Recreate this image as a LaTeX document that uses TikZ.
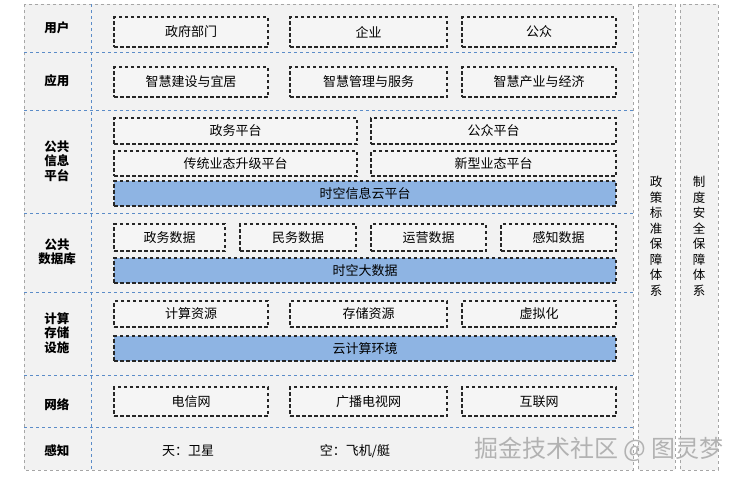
\documentclass[tikz,border=0pt]{standalone}
\usepackage{fontspec}
\setmainfont{Noto Sans CJK SC}
\begin{document}
\begin{tikzpicture}[x=1pt,y=-1pt,
 bx/.style={draw=black!85,dash pattern=on 3.5pt off 2.5pt,line width=1.1pt,fill=gray!8,inner sep=0pt,font=\fontsize{13}{13}\selectfont},
 bl/.style={draw=black!85,dash pattern=on 3.5pt off 2.5pt,line width=1.1pt,fill={rgb,255:red,142;green,180;blue,227},inner sep=0pt,font=\fontsize{13}{13}\selectfont},
 dv/.style={draw={rgb,255:red,91;green,140;blue,200},dashed,line width=0.8pt},
 lab/.style={font=\bfseries\fontsize{12.5}{14.5}\selectfont,align=center}]
\useasboundingbox (0,0) rectangle (740,479);
\fill[white] (0,0) rectangle (740,479);
\fill[gray!10] (24,4) rectangle (633,470);
\draw[gray!70,dashed] (24,4) rectangle (633,470);
\fill[gray!10] (638,4) rectangle (675,470);
\draw[gray!70,dashed] (638,4) rectangle (675,470);
\fill[gray!10] (680,4) rectangle (718,470);
\draw[gray!70,dashed] (680,4) rectangle (718,470);
\draw[dv] (91,4) -- (91,470);
\foreach \y in {52,110,213,292,375,427} \draw[dv] (24,\y) -- (633,\y);
\node[lab] (l1) at (57,28) {用户};
\node[lab] (l2) at (57,81) {应用};
\node[lab] (l3) at (57,161) {公共\\信息\\平台};
\node[lab] (l4) at (57,252) {公共\\数据库};
\node[lab] (l5) at (57,333) {计算\\存储\\设施};
\node[lab] (l6) at (57,405) {网络};
\node[lab] (l7) at (57,451) {感知};
\newcommand{\bbox}[6]{\node[#6,minimum width=#3-#2,minimum height=#5-#4] (#1) at ({(#2+#3)/2},{(#4+#5)/2})}
\bbox{u1}{114}{268}{17}{47}{bx} {政府部门};
\bbox{u2}{290}{447}{17}{47}{bx} {企业};
\bbox{u3}{462}{616}{17}{47}{bx} {公众};
\bbox{a1}{114}{268}{67}{97}{bx} {智慧建设与宜居};
\bbox{a2}{290}{447}{67}{97}{bx} {智慧管理与服务};
\bbox{a3}{462}{616}{67}{97}{bx} {智慧产业与经济};
\bbox{p1}{114}{357}{118}{144}{bx} {政务平台};
\bbox{p2}{371}{616}{118}{144}{bx} {公众平台};
\bbox{p3}{114}{357}{151}{176}{bx} {传统业态升级平台};
\bbox{p4}{371}{616}{151}{176}{bx} {新型业态平台};
\bbox{p5}{114}{616}{181}{206}{bl} {时空信息云平台};
\bbox{d1}{114}{225}{224}{251}{bx} {政务数据};
\bbox{d2}{240}{356}{224}{251}{bx} {民务数据};
\bbox{d3}{371}{486}{224}{251}{bx} {运营数据};
\bbox{d4}{501}{616}{224}{251}{bx} {感知数据};
\bbox{d5}{114}{616}{258}{283}{bl} {时空大数据};
\bbox{c1}{114}{268}{301}{327}{bx} {计算资源};
\bbox{c2}{290}{447}{301}{327}{bx} {存储资源};
\bbox{c3}{462}{616}{301}{327}{bx} {虚拟化};
\bbox{c4}{114}{616}{336}{361}{bl} {云计算环境};
\bbox{n1}{114}{268}{387}{416}{bx} {电信网};
\bbox{n2}{290}{447}{387}{416}{bx} {广播电视网};
\bbox{n3}{462}{616}{387}{416}{bx} {互联网};
\node[font=\fontsize{13}{13}\selectfont] (s1) at (188,451) {天：卫星};
\node[font=\fontsize{13}{13}\selectfont] (s2) at (355,451) {空：飞机/艇};
\node[font=\fontsize{12.5}{15.5}\selectfont,align=center] (r1) at (656,236) {政\\策\\标\\准\\保\\障\\体\\系};
\node[font=\fontsize{12.5}{15.5}\selectfont,align=center] (r2) at (699,236) {制\\度\\安\\全\\保\\障\\体\\系};
\node[font=\fontsize{24}{24}\selectfont,text=gray!60,anchor=east,inner sep=0pt] (wm) at (724,449) {掘金技术社区 @ 图灵梦};
\end{tikzpicture}
\end{document}
